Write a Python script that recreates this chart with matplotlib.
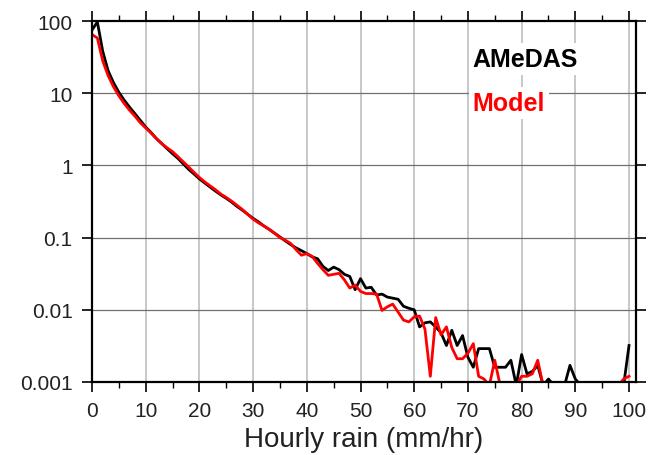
import numpy as np
import matplotlib
matplotlib.use("Agg")
import matplotlib.pyplot as plt
from matplotlib.ticker import FixedLocator, MultipleLocator, NullLocator

plt.rcParams['font.family'] = ['Liberation Sans', 'DejaVu Sans']

# hourly rain bins (mm/hr), 1 mm bins
rain = np.arange(0, 101)

# frequency (%) per bin; 0.0009 = below the plot floor
amedas = [
    75, 97, 38, 20.5, 14, 10.3, 8.0, 6.4, 5.2, 4.2,
    3.4, 2.85, 2.35, 2.0, 1.7, 1.45, 1.25, 1.05, 0.88, 0.76,
    0.65, 0.57, 0.5, 0.44, 0.39, 0.35, 0.31, 0.27, 0.24, 0.21,
    0.185, 0.165, 0.145, 0.13, 0.115, 0.102, 0.09, 0.08, 0.072, 0.066,
    0.060, 0.054, 0.051, 0.040, 0.035, 0.039, 0.036, 0.031, 0.029, 0.019,
    0.027, 0.020, 0.0205, 0.016, 0.0165, 0.015, 0.0145, 0.014, 0.0112, 0.0105,
    0.0100, 0.0058, 0.0066, 0.0068, 0.0058, 0.0048, 0.0032, 0.0052, 0.0032, 0.0044,
    0.0022, 0.0016, 0.0029, 0.0029, 0.0029, 0.0016, 0.0016, 0.0016, 0.0020, 0.0009,
    0.0024, 0.0013, 0.0014, 0.0017, 0.0009, 0.0011, 0.0009, 0.0009, 0.0009, 0.0017,
    0.0011, 0.0009, 0.0009, 0.0009, 0.0009, 0.0009, 0.0009, 0.0009, 0.0009, 0.0009,
    0.0032,
]

model = [
    65, 58, 28, 17.5, 12.3, 9.2, 7.2, 5.8, 4.8, 3.9,
    3.3, 2.8, 2.35, 2.0, 1.75, 1.55, 1.32, 1.12, 0.95, 0.80,
    0.68, 0.59, 0.52, 0.46, 0.40, 0.36, 0.32, 0.28, 0.245, 0.21,
    0.18, 0.16, 0.145, 0.13, 0.115, 0.10, 0.092, 0.083, 0.068, 0.057,
    0.060, 0.055, 0.044, 0.036, 0.030, 0.031, 0.032, 0.026, 0.020, 0.022,
    0.018, 0.0168, 0.0168, 0.0165, 0.0098, 0.011, 0.012, 0.0093, 0.0072, 0.0068,
    0.0080, 0.0082, 0.0054, 0.0012, 0.0078, 0.0045, 0.0058, 0.0030, 0.0021, 0.0021,
    0.0025, 0.0034, 0.0012, 0.0011, 0.0009, 0.0020, 0.0009, 0.0009, 0.0009, 0.0009,
    0.0012, 0.0012, 0.0013, 0.0020, 0.0009, 0.0009, 0.0009, 0.0009, 0.0009, 0.0009,
    0.0009, 0.0009, 0.0009, 0.0009, 0.0009, 0.0009, 0.0009, 0.0009, 0.0009, 0.0011,
    0.0012,
]

yticks = [0.001, 0.01, 0.1, 1, 10, 100]
ytick_labels = ['0.001', '0.01', '0.1', '1', '10', '100']

fig = plt.figure(figsize=(6.48, 4.56), dpi=100)
ax = fig.add_axes([92 / 648, 1 - 383 / 456, 544 / 648, 361 / 456])

ax.plot(rain, amedas, color='black', lw=2.0, zorder=3)
ax.plot(rain, model, color='#ff0000', lw=2.0, zorder=4)

ax.set_yscale('log')
ax.set_xlim(0, 101.3)
ax.set_ylim(0.001, 100)

ax.xaxis.set_major_locator(MultipleLocator(10))
ax.xaxis.set_minor_locator(MultipleLocator(5))
ax.yaxis.set_major_locator(FixedLocator(yticks))
ax.yaxis.set_minor_locator(NullLocator())
ax.set_yticklabels(ytick_labels)

# grid: light vertical, darker thin horizontal
for xv in range(10, 101, 10):
    ax.axvline(xv, color='#c4c4c4', lw=1.3, zorder=1)
for yv in yticks[1:-1]:
    ax.axhline(yv, color='#707070', lw=0.9, zorder=1)

ax.tick_params(which='major', direction='out', length=7, width=1.2,
               top=True, right=True, labelsize=15, pad=7, colors='black',
               labelcolor='#222222')
ax.tick_params(which='minor', direction='out', length=4, width=1.0,
               top=True, right=True)
for s in ax.spines.values():
    s.set_linewidth(1.6)
    s.set_zorder(5)

ax.set_xlabel('Hourly rain (mm/hr)', fontsize=20, labelpad=4, color='#222222')

box = dict(facecolor='white', edgecolor='none', pad=3)
ax.text(0.700, 0.875, 'AMeDAS', transform=ax.transAxes, fontsize=18,
        fontweight='bold', color='black', va='baseline', ha='left',
        bbox=box, zorder=6)
ax.text(0.700, 0.753, 'Model', transform=ax.transAxes, fontsize=18,
        fontweight='bold', color='#ff0000', va='baseline', ha='left',
        bbox=box, zorder=6)

fig.savefig('out.png', dpi=100)
